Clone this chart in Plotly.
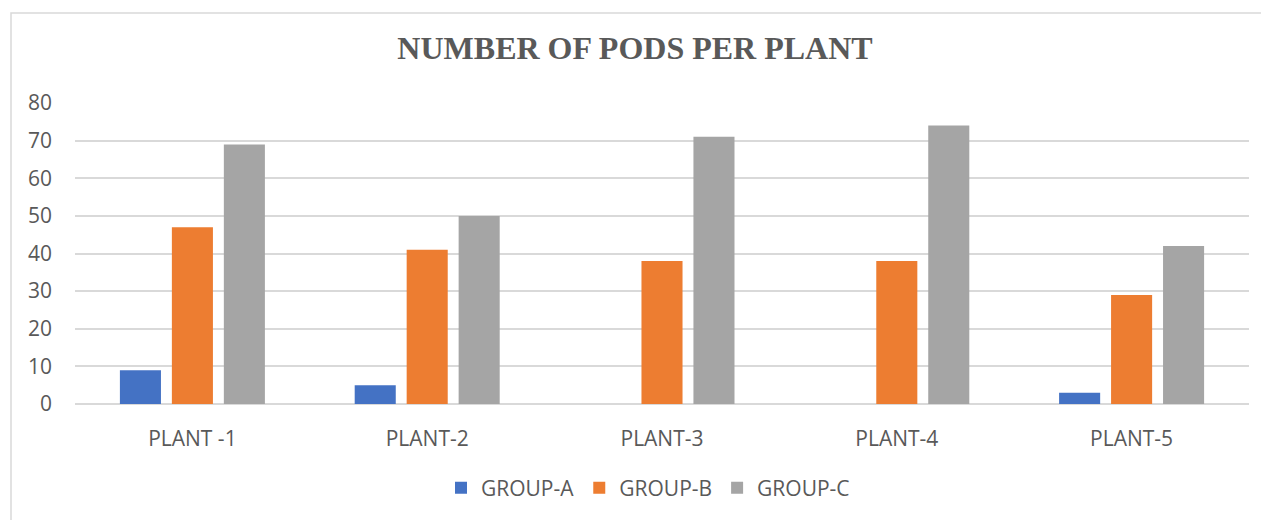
import plotly.graph_objects as go

categories = ["PLANT -1", "PLANT-2", "PLANT-3", "PLANT-4", "PLANT-5"]
group_a = [9, 5, 0, 0, 3]
group_b = [47, 41, 38, 38, 29]
group_c = [69, 50, 71, 74, 42]
y_ticks = [0, 10, 20, 30, 40, 50, 60, 70, 80]

series = [("GROUP-A", group_a, "#4472C4"),
          ("GROUP-B", group_b, "#ED7D31"),
          ("GROUP-C", group_c, "#A5A5A5")]

fig = go.Figure()
for name, vals, col in series:
    fig.add_trace(go.Bar(x=categories, y=vals, name=name, marker_color=col,
                         marker_line_width=0))

# page has an 8px body margin; compensate so plot area lands at x 75..1249, y 103..404
OFF = 8
font_fam = "Open Sans, Noto Sans, sans-serif"
fig.update_layout(
    width=1269 - OFF, height=520 - OFF,
    paper_bgcolor="white", plot_bgcolor="white",
    margin=dict(l=75 - OFF, r=20, t=103 - OFF, b=116),
    barmode="group", bargap=0.336, bargroupgap=0.21,
    title=dict(text="<b>NUMBER OF PODS PER PLANT</b>", x=(635 - OFF) / (1269 - OFF), xanchor="center",
               y=1 - (48 - OFF) / (520 - OFF), yanchor="middle",
               font=dict(family="Liberation Serif, Times New Roman, serif", size=32, color="#595959")),
    xaxis=dict(showgrid=False, showline=False, ticks="", zeroline=False,
               ticklabelstandoff=20,
               tickfont=dict(family=font_fam, size=21, color="#595959")),
    yaxis=dict(range=[0, 80], tickvals=y_ticks, showgrid=True, gridcolor="#D9D9D9", gridwidth=1.5,
               zeroline=True, zerolinecolor="#D9D9D9", zerolinewidth=1.5, showline=False, ticks="",
               ticklabelstandoff=22,
               tickfont=dict(family=font_fam, size=21, color="#595959")),
    legend=dict(orientation="h", x=(648 - 75) / 1174, xanchor="center", y=-0.279, yanchor="middle",
                font=dict(family=font_fam, size=21, color="#595959"), itemclick=False,
                tracegroupgap=0),
    showlegend=True,
    shapes=[dict(type="rect", xref="paper", yref="paper",
                 x0=(11 - 75) / 1174, x1=1.2, y0=-0.6, y1=(404 - 13) / 301,
                 line=dict(color="#D9D9D9", width=1.5), fillcolor="rgba(0,0,0,0)", layer="below")],
)

fig.write_html("out.html")
